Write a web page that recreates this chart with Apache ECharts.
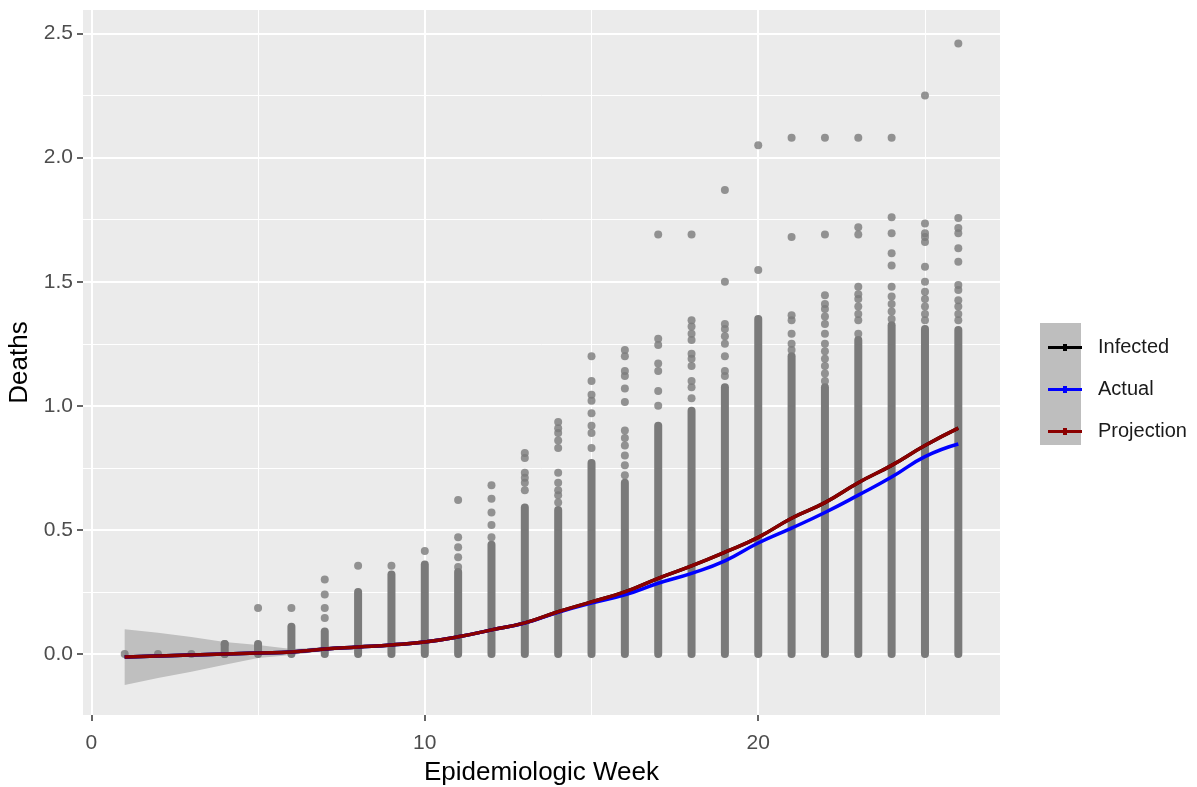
<!DOCTYPE html>
<html>
<head>
<meta charset="utf-8">
<script src="https://cdn.jsdelivr.net/npm/echarts@6/dist/echarts.min.js"></script>
<style>
  html, body { margin: 0; padding: 0; background: #fff; }
  #main { width: 1197px; height: 787px; }
</style>
</head>
<body>
<div id="main"></div>
<script>
// weeks and the stacked death values
const weeks = [1, 2, 3, 4, 5, 6, 7, 8, 9, 10, 11, 12, 13, 14, 15, 16, 17, 18, 19, 20, 21, 22, 23, 24, 25, 26]
// top of the solid run of points in each week
const columnTop = [0, 0, 0, 0.04, 0.04, 0.11, 0.09, 0.25, 0.32, 0.36, 0.33, 0.44, 0.59, 0.58, 0.77, 0.69, 0.92, 0.98, 1.075, 1.35, 1.2, 1.075, 1.265, 1.325, 1.31, 1.305]
// separate points above the solid run
const loosePoints = [
  [0],
  [0],
  [0],
  [0, 0.04],
  [0.185],
  [0.185],
  [0.145, 0.185, 0.24, 0.3],
  [0.355],
  [0.355],
  [0.415],
  [0.35, 0.39, 0.43, 0.47, 0.62],
  [0.47, 0.52, 0.57, 0.625, 0.68],
  [0.66, 0.69, 0.71, 0.73, 0.79, 0.81],
  [0.61, 0.64, 0.66, 0.69, 0.73, 0.83, 0.86, 0.89, 0.91, 0.935],
  [0.83, 0.89, 0.92, 0.97, 1.02, 1.045, 1.1, 1.2],
  [0.72, 0.76, 0.8, 0.84, 0.87, 0.9, 1.015, 1.07, 1.12, 1.14, 1.2, 1.225],
  [1.0, 1.06, 1.14, 1.17, 1.245, 1.27, 1.69],
  [1.03, 1.075, 1.1, 1.16, 1.19, 1.21, 1.265, 1.29, 1.32, 1.345, 1.69],
  [1.12, 1.14, 1.2, 1.25, 1.28, 1.31, 1.33, 1.5, 1.87],
  [1.547, 2.05],
  [1.225, 1.25, 1.29, 1.345, 1.365, 1.68, 2.08],
  [1.1, 1.13, 1.16, 1.19, 1.22, 1.25, 1.29, 1.33, 1.36, 1.39, 1.41, 1.445, 1.69, 2.08],
  [1.29, 1.345, 1.37, 1.4, 1.43, 1.45, 1.48, 1.69, 1.72, 2.08],
  [1.35, 1.38, 1.41, 1.44, 1.48, 1.565, 1.615, 1.695, 1.76, 2.08],
  [1.345, 1.37, 1.4, 1.43, 1.46, 1.5, 1.56, 1.66, 1.68, 1.695, 1.735, 2.25],
  [1.345, 1.37, 1.4, 1.425, 1.467, 1.487, 1.58, 1.635, 1.695, 1.717, 1.757, 2.46]
]

// smoothed lines
const infected = [-0.012, -0.008, -0.004, 0, 0.004, 0.008, 0.02, 0.028, 0.036, 0.048, 0.069, 0.097, 0.125, 0.17, 0.21, 0.25, 0.305, 0.355, 0.41, 0.47, 0.547, 0.61, 0.69, 0.76, 0.84, 0.91]
const actual = [-0.012, -0.008, -0.004, 0, 0.004, 0.008, 0.02, 0.028, 0.036, 0.048, 0.069, 0.097, 0.125, 0.168, 0.205, 0.238, 0.285, 0.325, 0.375, 0.447, 0.507, 0.57, 0.64, 0.713, 0.795, 0.846]
const projection = [-0.012, -0.008, -0.004, 0, 0.004, 0.008, 0.02, 0.028, 0.036, 0.048, 0.069, 0.097, 0.125, 0.17, 0.21, 0.25, 0.305, 0.355, 0.41, 0.47, 0.547, 0.61, 0.69, 0.76, 0.84, 0.91]

// confidence band, only wide enough to see in the first weeks
const bandWeeks = [1, 2, 3, 4, 5, 6, 7, 8]
const bandLow = [-0.125, -0.097, -0.072, -0.044, -0.016, -0.004, 0.012, 0.022]
const bandHigh = [0.1, 0.085, 0.068, 0.048, 0.036, 0.02, 0.028, 0.034]

// tick labels
const xMajor = [0, 10, 20]
const xMinor = [5, 15, 25]
const yMajor = [0, 0.5, 1, 1.5, 2, 2.5]
const yMinor = [0.25, 0.75, 1.25, 1.75, 2.25]

const xMin = -0.25, xMax = 27.25
const yMin = -0.246, yMax = 2.595

const columnData = []
weeks.forEach((w, i) => { if (columnTop[i] > 0) columnData.push([w, columnTop[i]]) })
const pointData = []
weeks.forEach((w, i) => loosePoints[i].forEach(v => pointData.push([w, v])))

const chart = echarts.init(document.getElementById('main'))
const font = 'Liberation Sans, Arial, sans-serif'
const keyIcon = 'path://M0,2L34,2L34,5L0,5Z M15,0L19,0L19,7L15,7Z'

const option = {
  animation: false,
  backgroundColor: '#ffffff',
  grid: {
    left: 83, right: 197, top: 10, bottom: 72,
    outerBoundsMode: 'none',
    show: true, backgroundColor: '#ebebeb', borderWidth: 0
  },
  legend: {
    orient: 'vertical',
    left: 1043,
    top: 332,
    itemWidth: 34,
    itemHeight: 7,
    itemGap: 21,
    data: [
      { name: 'Infected', icon: keyIcon },
      { name: 'Actual', icon: keyIcon },
      { name: 'Projection', icon: keyIcon }
    ],
    textStyle: { fontFamily: font, fontSize: 20, color: '#1a1a1a', lineHeight: 21, padding: [0, 0, 0, 11] }
  },
  graphic: [
    { type: 'rect', left: 1040, top: 323, z: -1, shape: { width: 41, height: 122 }, style: { fill: '#bebebe' } }
  ],
  xAxis: [
    {
      type: 'value', min: xMin, max: xMax,
      name: 'Epidemiologic Week', nameLocation: 'middle', nameGap: 45,
      nameTextStyle: { fontFamily: font, fontSize: 26, color: '#000' },
      axisLine: { show: false, onZero: false },
      axisTick: { show: true, length: 6, customValues: xMajor, lineStyle: { color: '#333', width: 1.5 } },
      axisLabel: { customValues: xMajor, margin: 18, fontFamily: font, fontSize: 21, color: '#4d4d4d' },
      splitLine: { show: true, lineStyle: { color: '#ffffff', width: 2 } }
    },
    {
      type: 'value', min: xMin, max: xMax, position: 'bottom',
      axisLine: { show: false, onZero: false },
      axisTick: { show: false, customValues: xMinor },
      axisLabel: { show: false },
      splitLine: { show: true, lineStyle: { color: '#ffffff', width: 1 } }
    }
  ],
  yAxis: [
    {
      type: 'value', min: yMin, max: yMax,
      name: 'Deaths', nameLocation: 'middle', nameGap: 47, nameRotate: 90,
      nameTextStyle: { fontFamily: font, fontSize: 26, color: '#000' },
      axisLine: { show: false, onZero: false },
      axisTick: { show: true, length: 6, customValues: yMajor, lineStyle: { color: '#333', width: 1.5 } },
      axisLabel: {
        customValues: yMajor, margin: 10, fontFamily: font, fontSize: 21, color: '#4d4d4d',
        formatter: v => v.toFixed(1)
      },
      splitLine: { show: true, lineStyle: { color: '#ffffff', width: 2 } }
    },
    {
      type: 'value', min: yMin, max: yMax, position: 'left',
      axisLine: { show: false, onZero: false },
      axisTick: { show: false, customValues: yMinor },
      axisLabel: { show: false },
      splitLine: { show: true, lineStyle: { color: '#ffffff', width: 1 } }
    }
  ],
  series: [
    // grey band round the start of the curves
    {
      type: 'custom',
      silent: true,
      z: 1,
      data: [[bandWeeks[0], bandLow[0]]],
      renderItem: (params, api) => {
        const pts = []
        bandWeeks.forEach((w, i) => pts.push(api.coord([w, bandHigh[i]])))
        for (let i = bandWeeks.length - 1; i >= 0; i--) pts.push(api.coord([bandWeeks[i], bandLow[i]]))
        return { type: 'polygon', shape: { points: pts }, style: { fill: '#bfbfbf' } }
      }
    },
    // solid run of points per week
    {
      type: 'custom',
      silent: true,
      z: 2,
      data: columnData,
      renderItem: (params, api) => {
        const a = api.coord([api.value(0), 0])
        const b = api.coord([api.value(0), api.value(1)])
        return {
          type: 'line',
          shape: { x1: a[0], y1: a[1], x2: b[0], y2: b[1] },
          style: { stroke: '#7a7a7a', lineWidth: 8, lineCap: 'round' }
        }
      }
    },
    {
      type: 'scatter',
      silent: true,
      z: 2,
      symbolSize: 8,
      itemStyle: { color: '#7a7a7a' },
      data: pointData
    },
    {
      name: 'Infected', type: 'line', z: 3, smooth: true, showSymbol: false,
      color: '#000000', lineStyle: { width: 3.5 },
      data: weeks.map((w, i) => [w, infected[i]])
    },
    {
      name: 'Actual', type: 'line', z: 4, smooth: true, showSymbol: false,
      color: '#0000ff', lineStyle: { width: 3.5 },
      data: weeks.map((w, i) => [w, actual[i]])
    },
    {
      name: 'Projection', type: 'line', z: 5, smooth: true, showSymbol: false,
      color: '#8b0000', lineStyle: { width: 3.5 },
      data: weeks.map((w, i) => [w, projection[i]])
    }
  ]
}

option && chart.setOption(option)
</script>
</body>
</html>
